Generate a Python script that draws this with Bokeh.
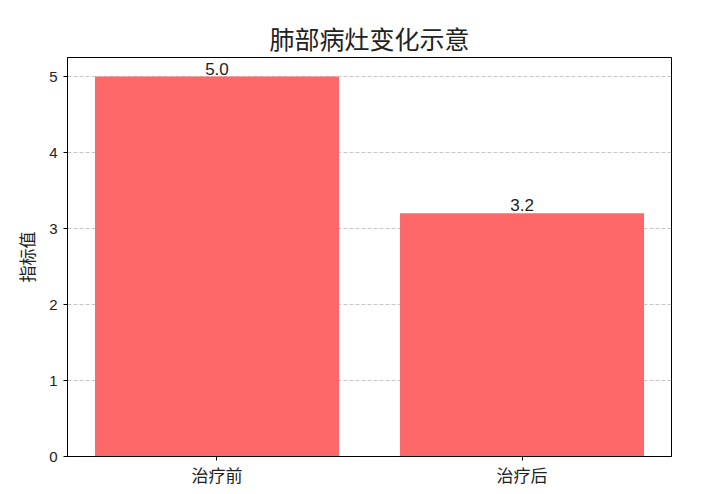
from bokeh.plotting import figure
from bokeh.models import Range1d, FixedTicker, ColumnDataSource
from bokeh.core.properties import value
from bokeh.embed import file_html
from bokeh.resources import INLINE

categories = ["治疗前", "治疗后"]
values = [5.0, 3.2]
y_ticks = [0, 1, 2, 3, 4, 5]

FONT = "Liberation Sans, Noto Sans CJK SC"

xs = list(range(len(categories)))
src = ColumnDataSource(data=dict(x=xs, top=values, label=["%.1f" % v for v in values]))

p = figure(width=690, height=490, output_backend="svg", toolbar_location=None,
           x_range=Range1d(-0.49, len(categories) - 1 + 0.49), y_range=Range1d(0, max(values) * 1.05),
           title="肺部病灶变化示意",
           min_border_left=67, min_border_right=19, min_border_top=57, min_border_bottom=34)

p.title.align = "center"
p.title.text_font = FONT
p.title.text_font_size = "25px"
p.title.text_font_style = "normal"
p.title.text_color = "#222222"
p.title.standoff = 8

p.vbar(x="x", top="top", width=0.8, source=src, fill_color="#ff6868", line_color=None)
p.text(x="x", y="top", text="label", source=src, text_align="center", text_baseline="bottom",
       text_font=value(FONT), text_font_size="17px", text_color="#222222", y_offset=-2)

p.xaxis.ticker = FixedTicker(ticks=xs)
p.xaxis.major_label_overrides = {i: c for i, c in enumerate(categories)}
p.yaxis.ticker = FixedTicker(ticks=y_ticks)

for ax in (p.xaxis, p.yaxis):
    ax.major_label_text_font = FONT
    ax.major_label_text_color = "#222222"
    ax.axis_line_color = "black"
    ax.major_tick_line_color = "black"
    ax.major_tick_in = 0
    ax.major_tick_out = 4
    ax.minor_tick_line_color = None

p.xaxis.major_label_text_font_size = "17px"
p.xaxis.major_label_standoff = 6
p.yaxis.major_label_text_font_size = "15px"
p.yaxis.major_label_standoff = 6

p.yaxis.axis_label = "指标值"
p.yaxis.axis_label_text_font = FONT
p.yaxis.axis_label_text_font_size = "17px"
p.yaxis.axis_label_text_font_style = "normal"
p.yaxis.axis_label_text_color = "#222222"
p.yaxis.axis_label_standoff = 8

p.xgrid.grid_line_color = None
p.ygrid.grid_line_color = "#b0b0b0"
p.ygrid.grid_line_dash = "4 2"
p.ygrid.grid_line_alpha = 0.7

p.outline_line_color = "black"
p.outline_line_alpha = 1
p.outline_line_width = 1

open("out.html", "w").write(file_html(p, INLINE))
